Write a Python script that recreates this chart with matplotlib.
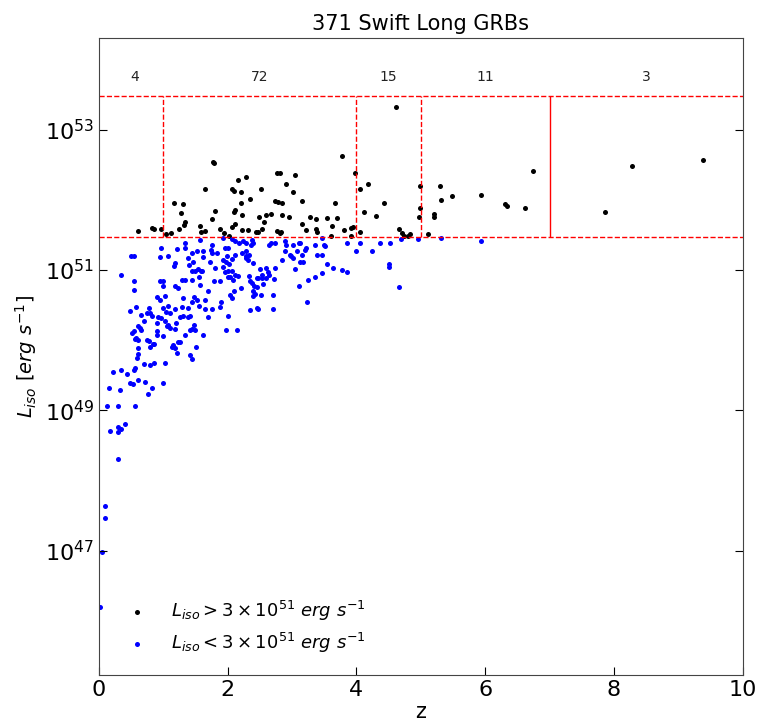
import numpy as np
import matplotlib
matplotlib.use("Agg")
import matplotlib.pyplot as plt

# bright bursts (L_iso > 3e51): redshift and log10 L_iso
z_hi = [0.61, 0.82, 0.86, 0.96,
        1.04, 1.12, 1.16, 1.31, 1.27, 1.34, 1.32, 1.24, 1.57, 1.59, 1.64, 1.65, 1.77, 1.81, 1.75, 1.88,
        1.95, 2.02, 2.06, 2.10, 2.16, 2.28, 2.20, 2.34, 2.20, 2.10, 2.22, 2.11, 2.07, 2.22, 2.32, 2.44,
        2.47, 2.48, 2.52, 2.57, 2.60, 2.68, 2.76, 2.82, 2.90, 3.04, 3.02, 2.74, 2.78, 2.84, 2.85, 2.95,
        3.16, 2.76, 2.81, 3.15, 3.21, 3.28, 3.37, 3.37, 3.38, 3.54, 3.62, 3.61, 3.66, 3.70, 3.78, 3.81,
        3.92, 3.95, 3.91, 3.98, 2.54, 2.83, 1.78, 2.12,
        4.06, 4.12, 4.06, 4.18, 4.30, 4.43, 4.61, 4.66, 4.70, 4.74, 4.80, 4.83, 4.99, 4.99, 4.97,
        5.11, 5.21, 5.21, 5.30, 5.31, 5.48, 5.94, 6.30, 6.34, 6.62, 6.75,
        7.86, 8.28, 9.39]
logL_hi = [51.55, 51.60, 51.59, 51.59,
           51.52, 51.53, 51.96, 51.94, 51.82, 51.69, 51.64, 51.58, 51.63, 51.54, 51.55, 52.16, 52.54, 51.84, 51.73, 51.59,
           51.53, 51.49, 52.16, 52.13, 52.28, 52.33, 52.11, 52.01, 51.95, 51.83, 51.78, 51.66, 51.62, 51.57, 51.57, 51.54,
           51.54, 51.76, 52.15, 51.69, 51.79, 51.80, 52.38, 52.38, 52.22, 52.35, 52.11, 51.99, 51.97, 51.95, 51.78, 51.76,
           51.98, 51.55, 51.53, 51.65, 51.57, 51.76, 51.73, 51.59, 51.54, 51.74, 51.63, 51.48, 51.95, 51.74, 52.63, 51.57,
           51.60, 51.62, 51.49, 52.38, 51.59, 51.54, 52.52, 51.86,
           52.16, 51.83, 51.54, 52.23, 51.77, 51.95, 53.32, 51.59, 51.53, 51.49, 51.49, 51.51, 52.20, 51.89, 51.76,
           51.51, 51.80, 51.75, 52.20, 52.00, 52.06, 52.07, 51.94, 51.91, 51.88, 52.41,
           51.83, 52.48, 52.57]

# faint bursts (L_iso < 3e51)
z_lo = [1.34, 1.33, 1.57, 1.75, 1.74, 1.93, 2.06, 2.11, 2.18, 2.24, 2.29, 2.37, 2.36, 2.40, 2.64, 2.68,
        2.73, 2.89, 2.90, 3.10, 3.12, 3.02, 3.35, 3.46, 3.50, 3.51, 3.86, 4.06, 4.36, 4.52, 4.69, 4.95,
        0.97, 1.21, 1.44, 1.52, 1.62, 1.75, 1.83, 1.96, 2.01, 2.11, 2.22, 2.29, 2.89, 3.07, 3.20, 3.22,
        2.97, 3.99, 4.24,
        0.50, 0.55, 0.95, 1.08, 1.18, 1.39, 1.46, 1.61, 1.73, 1.99, 1.93, 2.07, 2.28, 2.32, 2.29, 2.33,
        2.99, 3.02, 3.15, 3.13, 3.17, 3.38, 3.46, 3.55, 3.64, 3.78, 3.86, 4.51, 4.51,
        0.35, 0.55, 0.55, 0.95, 0.99, 1.16, 1.18, 1.23, 1.29, 1.33, 1.40, 1.44, 1.49, 1.54, 1.59, 1.45,
        1.57, 1.60, 1.81, 1.92, 1.97, 2.02, 1.96, 2.01, 2.06, 2.11, 2.16, 1.79, 1.88, 2.00, 2.03, 2.09,
        2.33, 2.50, 2.53, 2.60, 2.62, 2.64, 2.73, 2.37, 2.34, 2.45, 2.47, 2.53, 2.60, 2.72, 2.41, 2.45,
        2.40, 2.42, 2.39, 2.52, 2.71, 3.11, 3.25, 3.35, 3.46, 3.23, 3.04, 4.66,
        0.90, 0.95, 1.03, 1.07, 1.00, 1.04, 1.10, 1.18, 1.26, 1.29, 1.39, 1.31, 1.38, 1.41, 1.44, 1.48,
        1.52, 1.56, 1.65, 1.65, 1.76, 1.70, 1.88, 2.04, 2.07, 2.01, 2.35, 2.45, 2.47, 2.70, 1.98, 2.15,
        0.49, 0.58, 0.66, 0.70, 0.74, 0.78, 0.79, 0.83, 0.90, 0.92, 0.97, 1.02, 1.08, 1.10, 0.99, 1.05,
        1.18, 1.34, 1.44, 1.48, 1.49, 1.61, 1.23, 1.41,
        0.51, 0.55, 0.64, 0.61, 0.66, 0.57, 0.56, 0.61, 0.74, 0.77, 0.79, 0.84, 0.90, 0.90, 1.15, 1.18,
        1.14, 1.22, 1.26, 1.51, 1.42, 1.45,
        0.60, 0.61, 0.59, 0.70, 0.79, 0.86, 1.02, 0.56, 0.55, 0.35, 0.22, 0.43, 0.48, 0.53, 0.61, 0.71,
        0.99, 0.16, 0.32, 0.82, 0.76, 0.12, 0.29, 0.56,
        0.40, 0.30, 0.35, 0.30, 0.17, 0.29, 0.09, 0.09, 0.04, 0.02,
        5.31, 5.93,
        1.30, 1.70, 2.20, 1.90, 2.40, 1.55, 2.55, 1.20, 0.85, 2.85, 1.00, 2.10]
logL_lo = [51.39, 51.31, 51.43, 51.36, 51.29, 51.46, 51.44, 51.41, 51.39, 51.41, 51.38, 51.43, 51.36, 51.38, 51.36, 51.38,
           51.38, 51.41, 51.36, 51.39, 51.39, 51.36, 51.36, 51.46, 51.36, 51.34, 51.38, 51.38, 51.39, 51.38, 51.44, 51.44,
           51.31, 51.30, 51.24, 51.27, 51.27, 51.24, 51.24, 51.31, 51.31, 51.22, 51.24, 51.27, 51.27, 51.27, 51.29, 51.31,
           51.22, 51.27, 51.27,
           51.20, 51.20, 51.19, 51.20, 51.10, 51.17, 51.11, 51.18, 51.12, 51.20, 51.14, 51.16, 51.17, 51.15, 51.20, 51.22,
           51.20, 51.17, 51.22, 51.12, 51.12, 51.22, 51.22, 51.08, 51.03, 51.00, 50.97, 51.08, 51.05,
           50.93, 50.85, 50.72, 50.85, 50.77, 51.06, 50.78, 50.75, 50.86, 50.86, 51.07, 50.99, 50.98, 51.01, 50.98, 50.86,
           50.79, 50.99, 51.03, 51.04, 51.12, 51.08, 50.97, 50.98, 50.98, 50.93, 50.92, 50.85, 50.85, 50.90, 50.90, 50.86,
           50.92, 51.01, 50.93, 51.03, 50.97, 50.93, 51.03, 50.81, 50.84, 50.89, 50.89, 50.89, 50.89, 50.87, 50.77, 50.76,
           50.70, 50.66, 50.63, 50.65, 50.64, 50.77, 50.86, 50.90, 50.96, 50.55, 51.01, 50.76,
           50.62, 50.58, 50.63, 50.49, 50.46, 50.40, 50.39, 50.44, 50.33, 50.48, 50.46, 50.34, 50.33, 50.35, 50.55, 50.62,
           50.58, 50.49, 50.58, 50.44, 50.44, 50.33, 50.48, 50.64, 50.60, 50.35, 50.43, 50.46, 50.45, 50.45, 50.14, 50.14,
           50.42, 50.48, 50.36, 50.28, 50.39, 50.46, 50.39, 50.35, 50.24, 50.33, 50.32, 50.28, 50.22, 50.18, 50.06, 50.20,
           50.16, 50.07, 50.16, 50.21, 50.14, 50.07, 49.97, 50.15,
           50.10, 50.13, 50.18, 50.20, 50.15, 50.03, 50.02, 50.01, 50.01, 49.99, 49.91, 49.95, 50.13, 50.07, 49.93, 49.89,
           49.90, 49.82, 49.97, 49.90, 49.79, 49.73,
           49.89, 49.81, 49.75, 49.66, 49.65, 49.68, 49.68, 49.60, 49.57, 49.57, 49.54, 49.52, 49.39, 49.37, 49.44, 49.41,
           49.39, 49.32, 49.29, 49.32, 49.23, 49.06, 49.06, 49.06,
           48.80, 48.76, 48.73, 48.69, 48.70, 48.30, 47.63, 47.47, 46.98, 46.20,
           51.46, 51.42,
           50.60, 50.70, 50.75, 50.55, 51.10, 50.90, 50.80, 50.25, 49.95, 51.15, 50.85, 50.70]

# redshift bins and number of bright bursts in each
bin_edges = [0, 1, 4, 5, 7, 10]
bin_counts = [4, 72, 15, 11, 3]
L_cut = 3e51
L_top = 3e53

fig = plt.figure(figsize=(7.61, 7.28), dpi=100)
ax = fig.add_axes([0.130, 0.073, 0.846, 0.875])

ax.scatter(z_hi, 10 ** np.array(logL_hi), s=13, c="black", lw=0,
           label=r"$L_{iso} > 3\times10^{51}\ erg\ s^{-1}$")
ax.scatter(z_lo, 10 ** np.array(logL_lo), s=13, c="blue", lw=0,
           label=r"$L_{iso} < 3\times10^{51}\ erg\ s^{-1}$")

ax.set_yscale("log")
ax.set_xlim(0, 10)
ax.set_ylim(10 ** 45.23, 10 ** 54.31)

# bin boxes
ax.hlines([L_cut, L_top], 0, 10, colors="red", linestyles="--", lw=1)
for e in bin_edges[1:-1]:
    ls = "-" if e == 7 else "--"
    ax.vlines(e, L_cut, L_top, colors="red", linestyles=ls, lw=1)
for i, n in enumerate(bin_counts):
    zc = 0.5 * (bin_edges[i] + bin_edges[i + 1])
    if i == 0:
        zc = 0.55
    ax.text(zc, 5.7e53, str(n), ha="center", va="center", fontsize=10, color="#222222")

ax.set_xticks([0, 2, 4, 6, 8, 10])
ax.set_yticks([1e47, 1e49, 1e51, 1e53])
ax.yaxis.set_minor_locator(matplotlib.ticker.NullLocator())
ax.tick_params(direction="in", labelsize=16, length=6, right=True)
for s in ax.spines.values():
    s.set_color("#444444")

ax.set_title("371 Swift Long GRBs", fontsize=15)
ax.set_xlabel("z", fontsize=15, labelpad=2)
ax.set_ylabel(r"$L_{iso}\ [erg\ s^{-1}]$", fontsize=14)
ax.legend(loc="lower left", frameon=False, fontsize=13, handletextpad=0.9,
          borderpad=0.5, labelspacing=0.45, borderaxespad=0.6)

fig.savefig("out.png", dpi=100)
